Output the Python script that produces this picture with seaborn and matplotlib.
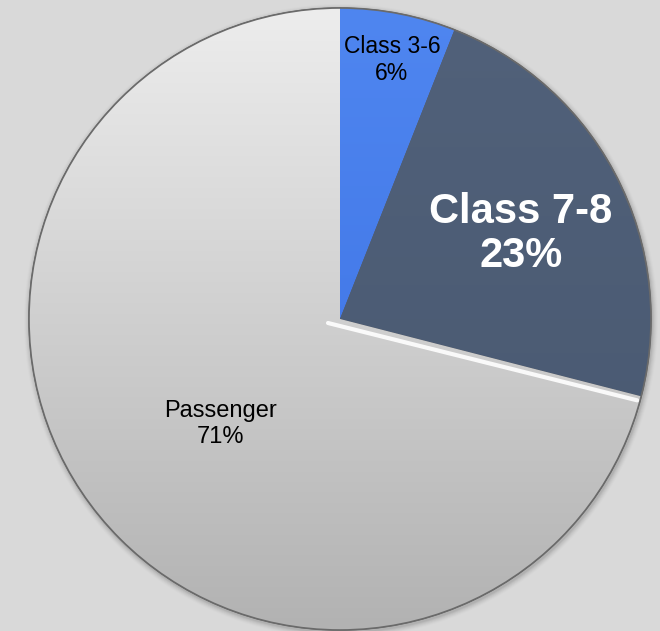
import numpy as np
import matplotlib
matplotlib.use("Agg")
import matplotlib.pyplot as plt
import seaborn as sns
from matplotlib.colors import LinearSegmentedColormap
from matplotlib.patches import Circle

sns.set_theme(style="white")
plt.rcParams["font.family"] = ["Liberation Sans", "DejaVu Sans"]

# Vehicle mix shares (percent), drawn clockwise from 12 o'clock
categories = ["Class 3-6", "Class 7-8", "Passenger"]
shares = [6, 23, 71]
label_colors = ["black", "white", "black"]
label_sizes = [16.5, 30, 17]
label_weights = ["normal", "bold", "normal"]

W, H = 660, 631
fig = plt.figure(figsize=(W / 100, H / 100), dpi=100)
bg = "#d9d9d9"
fig.patch.set_facecolor(bg)
ax = fig.add_axes([0, 0, 1, 1])
ax.set_facecolor(bg)

cx, cy, r = 340, H - 319, 311

# soft drop shadow behind the pie
for i, a in enumerate(np.linspace(0.05, 0.01, 6)):
    ax.add_patch(Circle((cx + 1, cy - 2), r + 1 + i, color="black", alpha=a, lw=0, zorder=0))

base_colors = ["#3f74e6", "#4a5b74", "#d4d4d4"]
wedges, _ = ax.pie(
    shares, startangle=90, counterclock=False, center=(cx, cy), radius=r,
    colors=base_colors, wedgeprops=dict(edgecolor="#5a5a5a", linewidth=0.8),
    frame=True,
)
ax.set_xlim(0, W)
ax.set_ylim(0, H)
ax.set_aspect("equal")
ax.axis("off")

# vertical shading inside each wedge
grad = np.linspace(0, 1, 256).reshape(-1, 1)
shades = {
    0: ["#4f86f0", "#3a6fe2"],
    1: ["#51617a", "#485870"],
    2: ["#ededed", "#b2b2b2"],
}
for i, w in enumerate(wedges):
    cmap = LinearSegmentedColormap.from_list(f"g{i}", shades[i])
    im = ax.imshow(grad, cmap=cmap, origin="upper",
                   extent=[cx - r, cx + r, cy - r, cy + r], zorder=w.get_zorder() + 0.1,
                   aspect="auto")
    im.set_clip_path(w)

# light bevel along the Passenger / Class 7-8 boundary
ang = np.deg2rad(90 - 360 * (shares[0] + shares[1]) / 100)
ax.plot([cx - 12, cx + r * np.cos(ang) - 4], [cy - 4, cy + r * np.sin(ang) - 4],
        color="white", lw=3, alpha=0.9, zorder=5, solid_capstyle="round")

# outer rim
ax.add_patch(Circle((cx, cy), r, fill=False, ec="#6a6a6a", lw=1.2, zorder=6))

label_pos = [(392, H - 60), (521, H - 234), (220, H - 424)]
spacings = [1.25, 1.15, 1.25]
for cat, val, (x, y), c, s, wt, ls in zip(categories, shares, label_pos,
                                          label_colors, label_sizes, label_weights, spacings):
    ax.text(x, y, f"{cat}\n{val}%", ha="center", va="center", color=c,
            fontsize=s, fontweight=wt, linespacing=ls, zorder=7)

fig.savefig("out.png", dpi=100, facecolor=bg)
